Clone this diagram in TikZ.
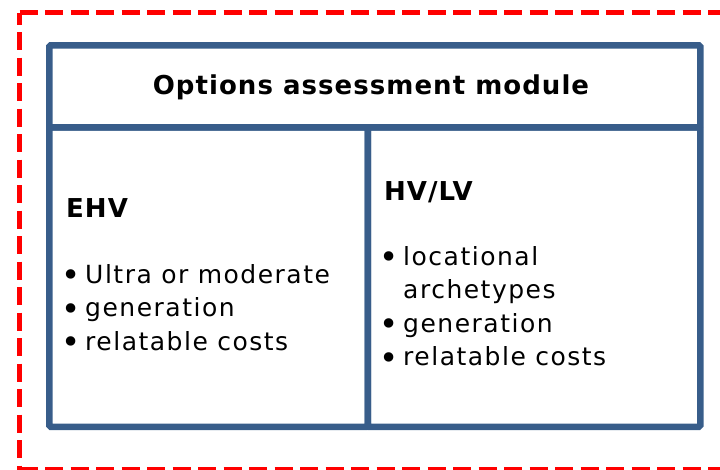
\documentclass[tikz,border=0pt]{standalone}
\usepackage{fontspec}
\usepackage{graphicx}
\setmainfont{DejaVu Sans}
\newfontfamily\bodyfont{DejaVu Sans}[LetterSpace=6]
\newfontfamily\headfont{DejaVu Sans Bold}[LetterSpace=4]
\definecolor{boxblue}{RGB}{56,93,138}
\definecolor{framered}{RGB}{255,0,0}
\tikzset{
  panel/.style={draw=boxblue, line width=6.5pt, rounded corners=1.5pt, inner sep=0pt, anchor=north west},
  redframe/.style={draw=framered, line width=5pt, line cap=butt, dash pattern=on 18pt off 7.5pt},
  titletext/.style={font=\headfont\fontsize{26}{30}\selectfont, inner sep=0pt, anchor=base},
  headtext/.style={font=\headfont\fontsize{26}{30}\selectfont, inner sep=0pt, anchor=base west},
  itemtext/.style={font=\bodyfont\fontsize{25}{30}\selectfont, inner sep=0pt, anchor=base west},
}
\newcommand{\bul}{\makebox[19pt][l]{\hspace{-4.5pt}\raisebox{-3.5pt}{\scalebox{1.3}{•}}}}
\begin{document}
\begin{tikzpicture}[x=1pt,y=-1pt]
\useasboundingbox (0,0) rectangle (720,469);
\clip (0,0) rectangle (720,469);
% red dashed frame
\coordinate (rtl) at (19.5,12.5);
\coordinate (rtr) at (730,12.5);
\coordinate (rbl) at (19.5,469.5);
\coordinate (rbr) at (730,469.5);
\draw[redframe] (rtl) -- (rtr);
\draw[redframe, dash phase=6pt] (rtl) -- (rbl);
\draw[redframe] (rbl) -- (rbr);
% panels
\node[panel, minimum width=651pt, minimum height=82pt] (hdr) at (46,42) {};
\node[panel, minimum width=318.5pt, minimum height=299.5pt] (lpan) at (46,124) {};
\node[panel, minimum width=332.5pt, minimum height=299.5pt] (rpan) at (364.5,124) {};
% title
\node[titletext] (title) at (371,94) {Options assessment module};
% left column
\node[headtext] (ehv) at (66,217) {EHV};
\node[itemtext] (l1) at (66,283) {\bul Ultra or moderate};
\node[itemtext] (l2) at (66,316.5) {\bul generation};
\node[itemtext] (l3) at (66,350) {\bul relatable costs};
% right column
\node[headtext] (hvlv) at (384,200) {HV/LV};
\node[itemtext] (r1) at (384,265) {\bul locational};
\node[itemtext] (r2) at (384,298.5) {\hspace{19pt}archetypes};
\node[itemtext] (r3) at (384,332) {\bul generation};
\node[itemtext] (r4) at (384,365.5) {\bul relatable costs};
\end{tikzpicture}
\end{document}
